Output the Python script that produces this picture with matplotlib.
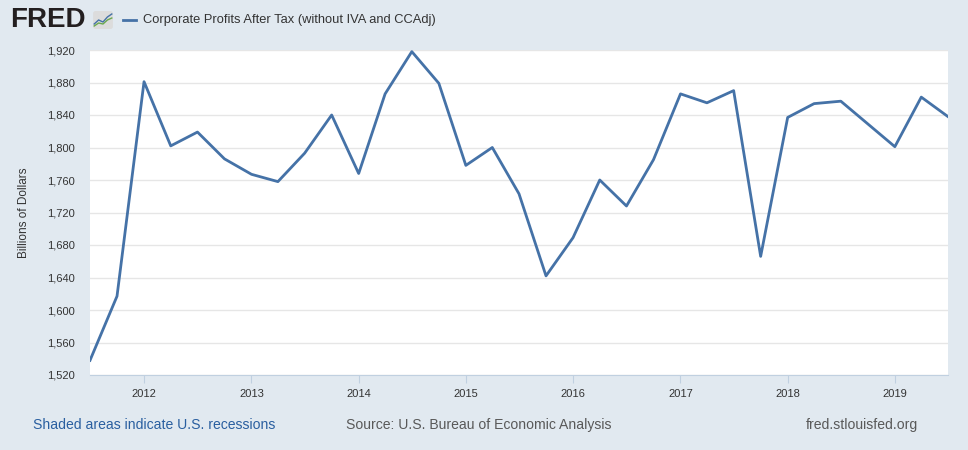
import pandas as pd
import matplotlib.pyplot as plt
import matplotlib.dates as mdates
from matplotlib.ticker import FuncFormatter
from matplotlib.patches import FancyBboxPatch

plt.rcParams['font.family'] = ['Liberation Sans', 'DejaVu Sans']

# Corporate profits after tax, quarterly, billions of dollars
profits = [1538, 1617, 1881, 1802, 1819, 1786, 1767, 1758, 1793, 1840,
           1768, 1866, 1918, 1879, 1778, 1800, 1743, 1642, 1689, 1760,
           1728, 1785, 1866, 1855, 1870, 1666, 1837, 1854, 1857, 1829,
           1801, 1862, 1838]
quarters = pd.date_range('2011-07-01', periods=len(profits), freq='QS')
y_ticks = list(range(1520, 1921, 40))
series_name = 'Corporate Profits After Tax (without IVA and CCAdj)'

bg = '#e1e9f0'
line_color = '#4572a7'

fig = plt.figure(figsize=(9.68, 4.5), dpi=100, facecolor=bg)
ax = fig.add_axes([90 / 968, 1 - 375 / 450, 858 / 968, 325 / 450])
ax.set_facecolor('white')

ax.plot(quarters, profits, color=line_color, linewidth=2)

ax.set_xlim(quarters[0], quarters[-1])
ax.set_ylim(1520, 1920)
ax.set_yticks(y_ticks)
ax.yaxis.set_major_formatter(FuncFormatter(lambda v, p: f'{int(v):,}'))
ax.xaxis.set_major_locator(mdates.YearLocator())
ax.xaxis.set_major_formatter(mdates.DateFormatter('%Y'))

ax.grid(axis='y', color='#e6e6e6', linewidth=1)
ax.set_axisbelow(True)
for side in ['top', 'right', 'left']:
    ax.spines[side].set_visible(False)
ax.spines['bottom'].set_color('#c0d0e0')
ax.tick_params(axis='y', length=0, labelsize=8, labelcolor='#333333', pad=11)
ax.tick_params(axis='x', length=6, color='#c0d0e0', labelsize=8,
               labelcolor='#333333', pad=4)

ax.set_ylabel('Billions of Dollars', fontsize=8.5, color='#333333', labelpad=12)

# header
fig.text(10 / 968, 1 - 20 / 450, 'FRED', fontsize=20, fontweight='bold',
         color='#231f20', va='center', ha='left')
icon = fig.add_axes([92 / 968, 1 - 30 / 450, 22 / 968, 20 / 450])
icon.set_xlim(0, 1)
icon.set_ylim(0, 1)
icon.axis('off')
icon.add_patch(FancyBboxPatch((0.05, 0.05), 0.9, 0.9,
                              boxstyle='round,pad=0,rounding_size=0.12',
                              facecolor='#dcdcdc', edgecolor='none'))
icon.plot([0.1, 0.3, 0.5, 0.7, 0.9], [0.3, 0.5, 0.4, 0.65, 0.8],
          color='#4572a7', linewidth=1)
icon.plot([0.1, 0.3, 0.5, 0.7, 0.9], [0.2, 0.35, 0.3, 0.5, 0.6],
          color='#6aa84f', linewidth=1)

fig.lines.append(plt.Line2D([123 / 968, 136 / 968], [1 - 20 / 450, 1 - 20 / 450],
                            transform=fig.transFigure, color=line_color,
                            linewidth=2))
fig.text(143 / 968, 1 - 20 / 450, series_name, fontsize=9.3, color='#333333',
         va='center', ha='left')

# footer
fig.text(33 / 968, 1 - 425 / 450, 'Shaded areas indicate U.S. recessions',
         fontsize=10.1, color='#2a5fa0', va='center', ha='left')
fig.text(346 / 968, 1 - 425 / 450, 'Source: U.S. Bureau of Economic Analysis',
         fontsize=10.1, color='#595959', va='center', ha='left')
fig.text(806 / 968, 1 - 425 / 450, 'fred.stlouisfed.org',
         fontsize=10.1, color='#595959', va='center', ha='left')

fig.savefig('out.png', dpi=100, facecolor=bg)
